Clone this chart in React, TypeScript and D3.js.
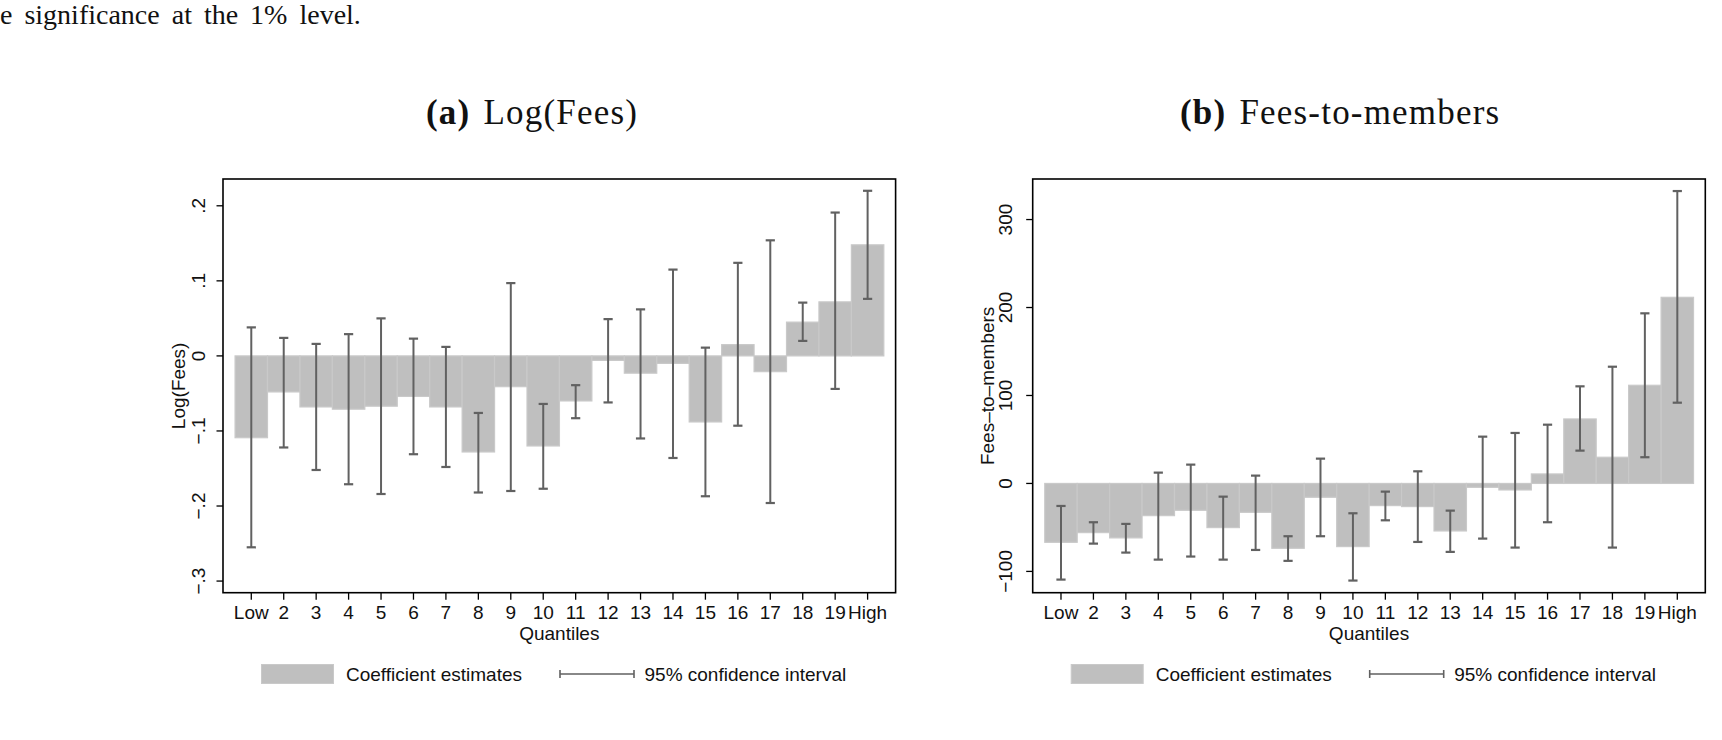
import React from "react";
import * as d3 from "d3";

// quantile labels shared by both panels
const quantiles = [
  "Low", "2", "3", "4", "5", "6", "7", "8", "9", "10",
  "11", "12", "13", "14", "15", "16", "17", "18", "19", "High",
];

// (a) Log(Fees): point estimates and 95% bounds
const feesCoef = [
  -0.109, -0.048, -0.068, -0.071, -0.067, -0.054, -0.068, -0.128, -0.041, -0.12,
  -0.06, -0.006, -0.023, -0.01, -0.088, 0.015, -0.021, 0.045, 0.072, 0.148,
];
const feesHi = [
  0.038, 0.024, 0.016, 0.029, 0.05, 0.023, 0.012, -0.076, 0.097, -0.064,
  -0.039, 0.049, 0.062, 0.115, 0.011, 0.124, 0.154, 0.071, 0.191, 0.22,
];
const feesLo = [
  -0.255, -0.122, -0.152, -0.171, -0.184, -0.131, -0.148, -0.182, -0.18, -0.177,
  -0.083, -0.062, -0.11, -0.136, -0.187, -0.093, -0.196, 0.02, -0.044, 0.076,
];
const feesTicks = [-0.3, -0.2, -0.1, 0, 0.1, 0.2];

// (b) Fees-to-members
const membersCoef = [
  -66.9, -55.9, -61.9, -36.6, -30.5, -50.2, -32.8, -73.7, -15.7, -71.8,
  -25.2, -26.3, -54.0, -4.4, -7.4, 10.8, 73.3, 29.8, 111.6, 211.6,
];
const membersHi = [
  -25.6, -44.1, -46.0, 12.3, 21.4, -15.0, 8.9, -60.0, 28.2, -33.9,
  -9.3, 13.8, -30.9, 53.2, 57.4, 66.8, 110.4, 132.7, 193.4, 332.4,
];
const membersLo = [
  -109.3, -68.4, -78.6, -86.6, -83.1, -86.6, -75.6, -88.0, -60.0, -110.4,
  -41.9, -66.5, -77.8, -62.7, -72.9, -44.1, 37.3, -72.9, 29.8, 91.8,
];
const membersTicks = [-100, 0, 100, 200, 300];

const SANS = "'Liberation Sans', Arial, Helvetica, sans-serif";
const SERIF = "'Liberation Serif', 'Times New Roman', serif";
const BAR = "#bfbfbf";
const BAR_EDGE = "#c9c9c9";
const CI = "#616161";

// stata-style labels: ".2", "−.3", "0"
const fmtTick = (v: number) => {
  if (v === 0) return "0";
  const s = String(Math.abs(v)).replace(/^0\./, ".");
  return (v < 0 ? "\u2212" : "") + s;
};

type PanelProps = {
  left: number;
  coef: number[];
  lo: number[];
  hi: number[];
  yDomain: [number, number];
  yTicks: number[];
  yTitle: string;
  tickLabelX: number;
  titleX: number;
};

function Panel({ left, coef, lo, hi, yDomain, yTicks, yTitle, tickLabelX, titleX }: PanelProps) {
  const top = 179;
  const bottom = 592.7;
  const right = left + 672.6;

  const x = d3.scaleLinear().domain([0.128, 20.863]).range([left, right]);
  const y = d3.scaleLinear().domain(yDomain).range([bottom, top]);
  const cap = 4.6;
  const midY = (top + bottom) / 2;
  const midX = (left + right) / 2;

  return (
    <g>
      {/* bars from zero to the estimate, one unit wide */}
      <g>
        {coef.map((v, i) => (
          <rect
            key={i}
            x={x(i + 0.5)}
            width={x(i + 1.5) - x(i + 0.5)}
            y={Math.min(y(v), y(0))}
            height={Math.abs(y(v) - y(0))}
            fill={BAR}
            stroke={BAR_EDGE}
            strokeWidth={1.2}
          />
        ))}
      </g>

      {/* confidence intervals */}
      <g stroke={CI} fill="none">
        {coef.map((_, i) => {
          const cx = x(i + 1);
          return (
            <g key={i}>
              <line x1={cx} x2={cx} y1={y(lo[i])} y2={y(hi[i])} strokeWidth={2} />
              <line x1={cx - cap} x2={cx + cap} y1={y(lo[i])} y2={y(lo[i])} strokeWidth={2.2} />
              <line x1={cx - cap} x2={cx + cap} y1={y(hi[i])} y2={y(hi[i])} strokeWidth={2.2} />
            </g>
          );
        })}
      </g>

      {/* plot frame */}
      <rect x={left} y={top} width={right - left} height={bottom - top} fill="none" stroke="#000" strokeWidth={1.6} />

      {/* y axis */}
      <g fontFamily={SANS} fontSize={19} fill="#111">
        {yTicks.map((t) => (
          <g key={t}>
            <line x1={left - 6.5} x2={left} y1={y(t)} y2={y(t)} stroke="#000" strokeWidth={1.3} />
            <text transform={`translate(${tickLabelX},${y(t)}) rotate(-90)`} textAnchor="middle">
              {fmtTick(t)}
            </text>
          </g>
        ))}
        <text transform={`translate(${titleX},${midY}) rotate(-90)`} textAnchor="middle">
          {yTitle}
        </text>
      </g>

      {/* x axis */}
      <g fontFamily={SANS} fontSize={19} fill="#111">
        {quantiles.map((q, i) => (
          <g key={q}>
            <line x1={x(i + 1)} x2={x(i + 1)} y1={bottom} y2={bottom + 7} stroke="#000" strokeWidth={1.3} />
            <text x={x(i + 1)} y={618.5} textAnchor="middle">
              {q}
            </text>
          </g>
        ))}
        <text x={midX} y={640} textAnchor="middle">
          Quantiles
        </text>
      </g>

      {/* legend */}
      <g fontFamily={SANS} fontSize={19} fill="#111">
        <rect x={left + 38.5} y={664.5} width={72} height={19} fill={BAR} stroke={BAR_EDGE} strokeWidth={1} />
        <text x={left + 123} y={681}>Coefficient estimates</text>
        <g stroke={CI} strokeWidth={1.6}>
          <line x1={left + 337} x2={left + 411} y1={674} y2={674} />
          <line x1={left + 337} x2={left + 337} y1={670} y2={678} />
          <line x1={left + 411} x2={left + 411} y1={670} y2={678} />
        </g>
        <text x={left + 421.5} y={681}>95% confidence interval</text>
      </g>
    </g>
  );
}

export default function App() {
  return (
    <svg
      width={1722}
      height={740}
      viewBox="0 0 1722 740"
      style={{ position: "absolute", left: 0, top: 0, background: "#fff" }}
    >
      <rect width={1722} height={740} fill="#fff" />

      <text x={0} y={24} fontFamily={SERIF} fontSize={28} wordSpacing={5} fill="#111">
        e significance at the 1% level.
      </text>

      {/* subfigure captions */}
      <text x={426} y={124} fontFamily={SERIF} fontSize={35} letterSpacing={1.2} fill="#111">
        <tspan fontWeight="bold">(a)</tspan>
        <tspan dx={13}>Log(Fees)</tspan>
      </text>
      <text x={1180} y={124} fontFamily={SERIF} fontSize={35} letterSpacing={1.2} fill="#111">
        <tspan fontWeight="bold">(b)</tspan>
        <tspan dx={13}>Fees-to-members</tspan>
      </text>

      <Panel
        left={223}
        coef={feesCoef}
        lo={feesLo}
        hi={feesHi}
        yDomain={[-0.3155, 0.2357]}
        yTicks={feesTicks}
        yTitle="Log(Fees)"
        tickLabelX={205}
        titleX={185}
      />
      <Panel
        left={1032.7}
        coef={membersCoef}
        lo={membersLo}
        hi={membersHi}
        yDomain={[-124.2, 346.1]}
        yTicks={membersTicks}
        yTitle={"Fees\u2013to\u2013members"}
        tickLabelX={1012}
        titleX={993.5}
      />
    </svg>
  );
}
